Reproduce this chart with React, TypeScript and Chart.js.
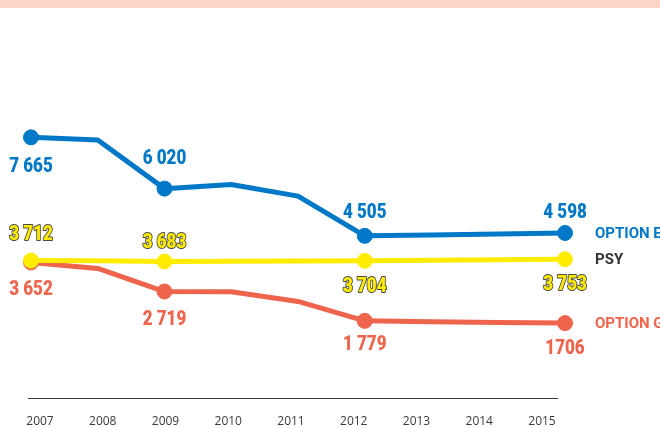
import React, { useEffect, useRef } from "react";
import { Chart, registerables } from "chart.js";

Chart.register(...registerables);

// ---- data ----
const years = [2007, 2008, 2009, 2010, 2011, 2012, 2013, 2014, 2015];
const optionE = [7665, 7580, 6020, 6150, 5780, 4505, 4535, 4565, 4598];
const psy = [3712, 3705, 3683, 3690, 3695, 3704, 3720, 3738, 3753];
const optionG = [3652, 3460, 2719, 2710, 2400, 1779, 1750, 1728, 1706];
const labelledIdx = [0, 2, 5, 8];
const labelsE = ["7 665", "6 020", "4 505", "4 598"];
const labelsPsy = ["3 712", "3 683", "3 704", "3 753"];
const labelsG = ["3 652", "2 719", "1 779", "1706"];
const seriesNames = ["OPTION E", "PSY", "OPTION G"];

// ---- styles ----
const BLUE = "#0078C8";
const YELLOW = "#FFEC00";
const RED = "#EF644C";
const labelOffsets = [
  [30, -30, -23, -20],
  [-26, -18, 26, 26],
  [28, 28, 24, 26],
];
const nameColors = [BLUE, "#333333", RED];
const NUM_FONT = '900 20px Roboto, "DejaVu Sans", sans-serif';
const NUM_SX = 0.85;

const pointRadii = years.map((_, i) => (labelledIdx.includes(i) ? 7.5 : 0));

const decorPlugin = {
  id: "decor",
  beforeDraw(chart: any) {
    const ctx = chart.ctx;
    ctx.save();
    ctx.fillStyle = "#FCD5C6";
    ctx.fillRect(0, 0, chart.width, 8);
    ctx.restore();
  },
  afterDatasetsDraw(chart: any) {
    const ctx = chart.ctx;
    const allLabels = [labelsE, labelsPsy, labelsG];
    ctx.save();
    ctx.textAlign = "center";
    ctx.textBaseline = "middle";
    ctx.font = NUM_FONT;
    chart.data.datasets.forEach((ds: any, i: number) => {
      const meta = chart.getDatasetMeta(i);
      labelledIdx.forEach((idx, k) => {
        const el = meta.data[idx];
        const x = el.x;
        const y = el.y + labelOffsets[i][k];
        const txt = allLabels[i][k];
        ctx.save();
        ctx.translate(x, y);
        ctx.scale(NUM_SX, 1);
        if (i === 1) {
          ctx.lineWidth = 2;
          ctx.strokeStyle = "#4a4a4a";
          ctx.lineJoin = "round";
          ctx.strokeText(txt, 0, 0);
          ctx.fillStyle = YELLOW;
          ctx.fillText(txt, 0, 0);
        } else {
          ctx.fillStyle = ds.borderColor;
          ctx.fillText(txt, 0, 0);
        }
        ctx.restore();
      });
    });
    // series names
    ctx.textAlign = "left";
    ctx.font = 'bold 15px Roboto, "Open Sans", sans-serif';
    chart.data.datasets.forEach((ds: any, i: number) => {
      const meta = chart.getDatasetMeta(i);
      const el = meta.data[meta.data.length - 1];
      ctx.fillStyle = nameColors[i];
      ctx.fillText(seriesNames[i], el.x + 30, el.y + 1);
    });
    ctx.restore();
  },
};

export default function App() {
  const ref = useRef<HTMLCanvasElement | null>(null);
  useEffect(() => {
    if (!ref.current) return;
    const mk = (vals: number[]) => years.map((yr, i) => ({ x: yr, y: vals[i] }));
    const common = {
      borderWidth: 5,
      pointRadius: pointRadii,
      pointHoverRadius: pointRadii,
      pointBorderWidth: 1,
      tension: 0,
      clip: false as any,
      borderJoinStyle: "round" as const,
      borderCapStyle: "round" as const,
    };
    const chart = new Chart(ref.current, {
      type: "line",
      data: {
        datasets: [
          { label: seriesNames[0], data: mk(optionE), borderColor: BLUE, backgroundColor: BLUE, pointBackgroundColor: BLUE, pointBorderColor: BLUE, ...common },
          { label: seriesNames[1], data: mk(psy), borderColor: YELLOW, backgroundColor: YELLOW, pointBackgroundColor: YELLOW, pointBorderColor: YELLOW, ...common },
          { label: seriesNames[2], data: mk(optionG), borderColor: RED, backgroundColor: RED, pointBackgroundColor: RED, pointBorderColor: RED, ...common },
        ],
      },
      options: {
        animation: false,
        responsive: false,
        devicePixelRatio: 1,
        layout: { padding: { left: 28, right: 103, top: 8, bottom: 0 } },
        plugins: { legend: { display: false }, tooltip: { enabled: false } },
        events: [],
        scales: {
          x: { type: "linear", display: false, min: 2006.955, max: 2014.88 },
          years: {
            type: "linear",
            axis: "x",
            position: "bottom",
            min: 2006.8088,
            max: 2015.2391,
            grid: { display: false, drawTicks: false },
            border: { display: true, color: "#3a3a3a", width: 1 },
            ticks: {
              padding: 16,
              color: "#3a3a3a",
              font: { family: '"Open Sans", sans-serif', size: 12 },
              includeBounds: false,
              stepSize: 1,
              callback: (v: any) => String(v),
            },
            afterBuildTicks: (axis: any) => {
              axis.ticks = years.map((v) => ({ value: v }));
            },
            afterFit: (s: any) => {
              s.height = 30;
            },
          } as any,
          y: { display: false, min: -697, max: 11799 },
        },
      },
      plugins: [decorPlugin],
    });
    return () => chart.destroy();
  }, []);
  return (
    <div style={{ position: "absolute", left: 0, top: 0, width: 660, height: 428, background: "#fff" }}>
      <canvas ref={ref} width={660} height={428} style={{ display: "block" }} />
    </div>
  );
}
